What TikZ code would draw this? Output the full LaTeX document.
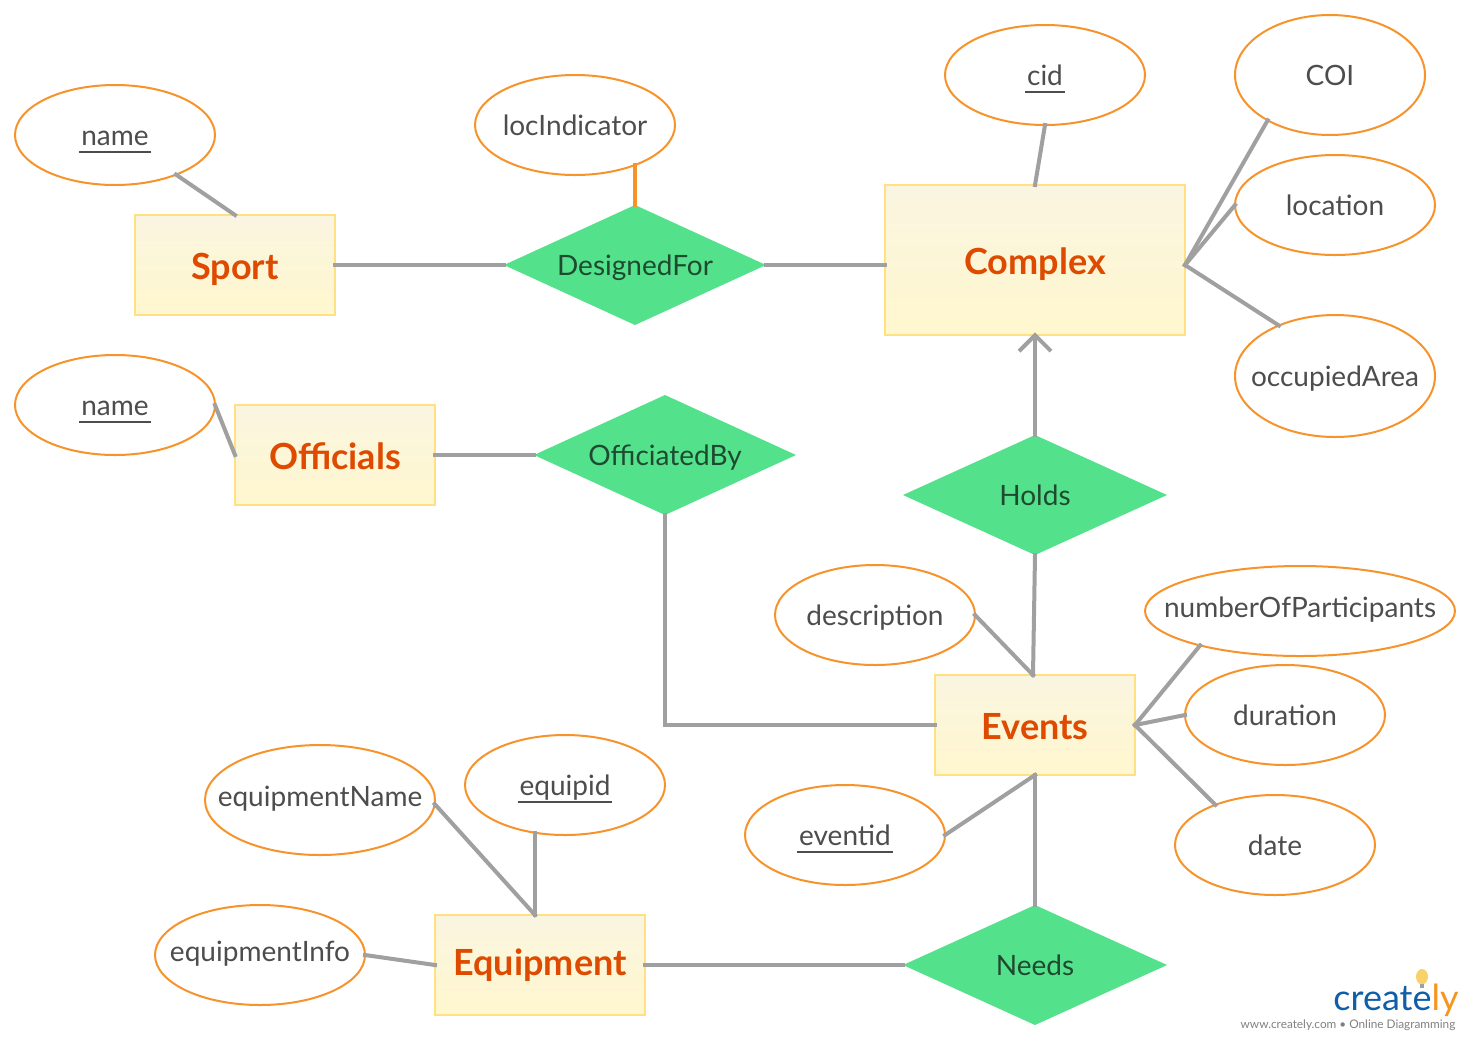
\documentclass[tikz,border=0pt]{standalone}
\usepackage{fontspec}
\setmainfont{Lato}
\usetikzlibrary{positioning,shapes.geometric,arrows.meta}

\definecolor{boxline}{HTML}{FFE082}
\definecolor{boxtop}{HTML}{FAF5E1}
\definecolor{boxbottom}{HTML}{FFF7CE}
\definecolor{ringline}{HTML}{F7932B}
\definecolor{relfill}{HTML}{54E18C}
\definecolor{linkgray}{HTML}{A0A0A0}
\definecolor{attrtext}{HTML}{4D4D4D}
\definecolor{reltext}{HTML}{1E4A30}
\definecolor{entitytext}{HTML}{DE4A00}
\definecolor{logoblue}{HTML}{0F5FA8}
\definecolor{logoorange}{HTML}{F7941E}
\definecolor{bulbyellow}{HTML}{F8D266}

\newcommand{\keyattr}[1]{\setbox0\hbox{#1}\rlap{\hspace{1.5pt}\copy0}\rule[-6pt]{\dimexpr\wd0+3pt}{1.5pt}}

\begin{document}
\begin{tikzpicture}[x=0.75pt,y=-0.75pt,on grid,
		entitynode/.style={rectangle,draw=boxline,line width=1.5pt,top color=boxtop,bottom color=boxbottom,inner sep=0pt,outer sep=0pt,text height=21.5pt,text depth=0pt,text=entitytext,font=\fontsize{27}{32}\selectfont\bfseries},
		attrnode/.style={ellipse,draw=ringline,line width=1.5pt,fill=white,inner xsep=-22pt,inner ysep=0pt,outer sep=0pt,minimum width=150pt,minimum height=75pt,text height=15.5pt,text depth=0pt,text=attrtext,font=\fontsize{21}{25}\selectfont},
		relnode/.style={diamond,fill=relfill,shape aspect=2.17,inner sep=0pt,outer sep=0pt,minimum width=196.5pt,minimum height=90pt,text height=15.5pt,text depth=0pt,text=reltext,font=\fontsize{21}{25}\selectfont},
		linkline/.style={draw=linkgray,line width=3pt,shorten <=-1.5pt,shorten >=-1.5pt}]
	\useasboundingbox (0,0) rectangle (1470,1040);

	\node[entitynode,minimum width=150pt,minimum height=75pt] at (235,265) (sport) {Sport};
	\node[relnode,right=300pt of sport] (designedfor) {DesignedFor};
	\node[entitynode,minimum width=225pt,minimum height=112.5pt,above right=3.75pt and 300pt of designedfor] (complex) {Complex};
	\node[attrnode,above left=97.5pt and 90pt of sport] (sportname) {\keyattr{name}};
	\node[attrnode,above left=105pt and 45pt of designedfor] (locindicator) {locIndicator};

	\node[attrnode,above right=138.75pt and 7.5pt of complex] (cid) {\keyattr{cid}};
	\node[attrnode,minimum width=142.5pt,minimum height=90pt,above right=138.75pt and 221.25pt of complex] (coi) {COI};
	\node[attrnode,above right=41.25pt and 225pt of complex] (location) {location};
	\node[attrnode,minimum height=91.5pt,below right=87pt and 225pt of complex] (occupiedarea) {occupiedArea};

	\node[entitynode,minimum width=150pt,minimum height=75pt,below right=142.5pt and 75pt of sport] (officials) {Officials};
	\node[attrnode,above left=37.5pt and 165pt of officials] (officialsname) {\keyattr{name}};
	\node[relnode,right=247.5pt of officials] (officiatedby) {OfficiatedBy};

	\node[relnode,minimum width=198pt,below=176.25pt of complex] (holds) {Holds};
	\node[entitynode,minimum width=150pt,minimum height=75pt,below=172.5pt of holds] (events) {Events};
	\node[attrnode,above left=82.5pt and 120pt of events] (description) {description};
	\node[attrnode,minimum width=232.5pt,minimum height=67.5pt,text depth=6pt,above right=85.5pt and 198.75pt of events] (participants) {numberOfParticipants};
	\node[attrnode,above right=7.5pt and 187.5pt of events] (duration) {duration};
	\node[attrnode,below right=90pt and 180pt of events] (date) {date};
	\node[attrnode,below left=82.5pt and 142.5pt of events] (eventid) {\keyattr{eventid}};

	\node[relnode,minimum width=198pt,below=180pt of events] (needs) {Needs};
	\node[entitynode,minimum width=157.5pt,minimum height=75pt,text depth=6pt,left=371.25pt of needs] (equipment) {Equipment};
	\node[attrnode,above right=135pt and 18.75pt of equipment] (equipid) {\keyattr{equipid}};
	\node[attrnode,minimum width=172.5pt,minimum height=82.5pt,text depth=6pt,above left=123.75pt and 165pt of equipment] (equipname) {equipmentName};
	\node[attrnode,minimum width=157.5pt,text depth=6pt,above left=7.5pt and 210pt of equipment] (equipinfo) {equipmentInfo};

	\coordinate[below=3.75pt of complex.west] (complexwest);
	\coordinate[below=3.75pt of complex.east] (complexeast);
	\coordinate[left=1.5pt of events.north] (eventstop);
	\coordinate[left=3.75pt of equipment.north] (equiptop);

	\draw[linkline] (sportname.-33.7) -- (sport.north);
	\draw[linkline] (sport.east) -- (designedfor.west);
	\draw[linkline,draw=ringline] (locindicator.-33.7 -| designedfor.north) -- (designedfor.north);
	\draw[linkline] (designedfor.east) -- (complexwest);
	\draw[linkline] (cid.south) -- (complex.north);
	\draw[linkline] (coi.216.4) -- (complexeast);
	\draw[linkline] (location.west) -- (complexeast);
	\draw[linkline] (occupiedarea.138.7) -- (complexeast);
	\draw[linkline] (officialsname.east) -- (officials.west);
	\draw[linkline] (officials.east) -- (officiatedby.west);
	\draw[linkline,-{Straight Barb[length=12pt,width=24pt]},shorten >=-2pt] (holds.north) -- (complex.south);
	\draw[linkline] (holds.south) -- (eventstop);
	\draw[linkline] (officiatedby.south) |- (events.west);
	\draw[linkline] (description.east) -- (eventstop);
	\draw[linkline] (participants.199.7) -- (events.east);
	\draw[linkline] (duration.west) -- (events.east);
	\draw[linkline] (date.146.3) -- (events.east);
	\draw[linkline] (eventid.east) -- (events.south);
	\draw[linkline] (needs.north) -- (events.south);
	\draw[linkline] (needs.west) -- (equipment.east);
	\draw[linkline] (equipid.-122.2 -| equiptop) -- (equiptop);
	\draw[linkline] (equipname.-2.5) -- (equiptop);
	\draw[linkline] (equipinfo.east) -- (equipment.west);

	% logo
	\node[below right=26.25pt and 270.75pt of needs,inner sep=0pt,text=logoblue,font=\fontsize{27}{32}\selectfont] (logo) {create\textcolor{logoorange}{ly}};
	\node[below left=18.75pt and 36pt of logo,inner sep=0pt,text=gray,font=\fontsize{8.85}{10}\selectfont] (tagline) {www.creately.com • Online Diagramming};
	\node[above right=17.5pt and 19.5pt of logo,ellipse,fill=bulbyellow,inner sep=0pt,minimum width=9pt,minimum height=11.5pt] (bulb) {};
	\node[below=7pt of bulb,rectangle,fill=linkgray,inner sep=0pt,minimum width=3pt,minimum height=2.5pt] (bulbstem) {};
\end{tikzpicture}
\end{document}
